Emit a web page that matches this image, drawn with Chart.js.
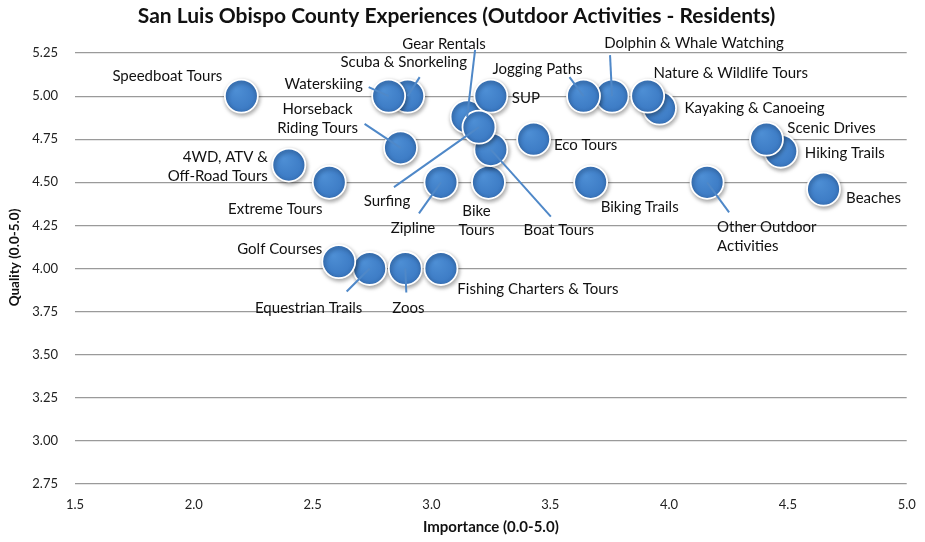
<!DOCTYPE html>
<html>
<head>
<meta charset="utf-8">
<script src="https://cdn.jsdelivr.net/npm/chart.js@4.4.1/dist/chart.umd.min.js"></script>
<style>
  html, body { margin: 0; padding: 0; background: #ffffff; }
  #wrap { width: 925px; height: 542px; }
</style>
</head>
<body>
<div id="wrap"><canvas id="chart" width="925" height="542"></canvas></div>
<script>
// Activities (drawing order: later entries sit on top of earlier ones)
const activities = [
  'Speedboat Tours', '4WD, ATV &\nOff-Road Tours', 'Extreme Tours', 'Scuba & Snorkeling',
  'Waterskiing', 'Horseback\nRiding Tours', 'Gear Rentals', 'Bike\nTours', 'Boat Tours',
  'SUP', 'Surfing', 'Eco Tours', 'Zipline', 'Biking Trails', 'Dolphin & Whale Watching',
  'Jogging Paths', 'Kayaking & Canoeing', 'Nature & Wildlife Tours', 'Hiking Trails',
  'Scenic Drives', 'Other Outdoor\nActivities', 'Beaches', 'Equestrian Trails',
  'Golf Courses', 'Zoos', 'Fishing Charters & Tours'
];
const importance = [
  2.20, 2.40, 2.57, 2.90, 2.82, 2.87, 3.15, 3.24, 3.25, 3.25, 3.20, 3.43, 3.04,
  3.67, 3.76, 3.64, 3.96, 3.91, 4.47, 4.41, 4.16, 4.65, 2.74, 2.61, 2.89, 3.04
];
const quality = [
  5.00, 4.60, 4.50, 5.00, 5.00, 4.70, 4.88, 4.50, 4.69, 5.00, 4.82, 4.75, 4.50,
  4.50, 5.00, 5.00, 4.93, 5.00, 4.68, 4.75, 4.50, 4.46, 4.00, 4.04, 4.00, 4.00
];
const xTickValues = [1.5, 2.0, 2.5, 3.0, 3.5, 4.0, 4.5, 5.0];
const yTickValues = [2.75, 3.00, 3.25, 3.50, 3.75, 4.00, 4.25, 4.50, 4.75, 5.00, 5.25];
const xAxisTitle = 'Importance (0.0-5.0)';
const yAxisTitle = 'Quality (0.0-5.0)';

// Where each label sits relative to its bubble (pixels), plus optional leader line start
const labelPlacement = [
  { dx: -74, dy: -20 },
  { dx: -21, dy: 1.5, align: 'right' },
  { dx: -54, dy: 27 },
  { dx: -4, dy: -34, lead: [12, -19] },
  { dx: -65, dy: -12, lead: [-20, -9] },
  { dx: -83, dy: -29, lead: [-36, -24] },
  { dx: -23, dy: -73, lead: [8, -67] },
  { dx: -12, dy: 38 },
  { dx: 68, dy: 81, lead: [60, 67] },
  { dx: 35, dy: 2 },
  { dx: -92, dy: 74, lead: [-85, 60] },
  { dx: 52, dy: 6 },
  { dx: -28, dy: 46, lead: [-22, 31] },
  { dx: 49, dy: 25 },
  { dx: 82, dy: -53, lead: [-2, -41] },
  { dx: -46, dy: -27, lead: [-14, -19] },
  { dx: 95, dy: 0 },
  { dx: 83, dy: -23 },
  { dx: 64, dy: 2 },
  { dx: 65, dy: -11 },
  { dx: 10, dy: 54.5, align: 'left', lead: [22, 30] },
  { dx: 50, dy: 9 },
  { dx: -61, dy: 40, lead: [-23, 23] },
  { dx: -59, dy: -12 },
  { dx: 3, dy: 40, lead: [1, 24] },
  { dx: 97, dy: 21 }
];

const FONT = 'Lato, "Open Sans", sans-serif';

const points = importance.map((x, i) => ({ x: x, y: quality[i] }));

// Soft drop shadow under the bubbles
const bubbleShadow = {
  id: 'bubbleShadow',
  beforeDatasetsDraw(chart) {
    const ctx = chart.ctx;
    ctx.save();
    ctx.shadowColor = 'rgba(0,0,0,0.35)';
    ctx.shadowBlur = 4;
    ctx.shadowOffsetX = 1;
    ctx.shadowOffsetY = 2;
  },
  afterDatasetsDraw(chart) {
    chart.ctx.restore();
  }
};

// Importance tick labels under the plot, and the vertical axis title
const axisText = {
  id: 'axisText',
  afterDraw(chart) {
    const ctx = chart.ctx;
    const a = chart.chartArea;
    const xs = chart.scales.x;
    ctx.save();
    ctx.fillStyle = '#222222';
    ctx.font = '13px ' + FONT;
    ctx.textAlign = 'center';
    ctx.textBaseline = 'middle';
    xTickValues.forEach(v => {
      ctx.fillText(v.toFixed(1), xs.getPixelForValue(v), a.bottom + 21);
    });
    ctx.translate(15, (a.top + a.bottom) / 2 - 11);
    ctx.rotate(-Math.PI / 2);
    ctx.fillStyle = '#111111';
    ctx.font = 'bold 13.5px ' + FONT;
    ctx.fillText(yAxisTitle, 0, 0);
    ctx.restore();
  }
};

// Activity names with leader lines
const bubbleLabels = {
  id: 'bubbleLabels',
  afterDatasetsDraw(chart) {
    const ctx = chart.ctx;
    const meta = chart.getDatasetMeta(0);
    ctx.save();
    ctx.strokeStyle = '#4f88c8';
    ctx.lineWidth = 2;
    meta.data.forEach((pt, i) => {
      const p = labelPlacement[i];
      if (!p.lead) return;
      ctx.beginPath();
      ctx.moveTo(pt.x + p.lead[0], pt.y + p.lead[1]);
      ctx.lineTo(pt.x, pt.y);
      ctx.stroke();
    });
    ctx.fillStyle = '#111111';
    ctx.font = '15px ' + FONT;
    ctx.textBaseline = 'middle';
    const lh = 19;
    meta.data.forEach((pt, i) => {
      const p = labelPlacement[i];
      const lines = activities[i].split('\n');
      ctx.textAlign = p.align || 'center';
      const cx = pt.x + p.dx;
      const cy = pt.y + p.dy;
      lines.forEach((ln, k) => {
        ctx.fillText(ln, cx, cy + (k - (lines.length - 1) / 2) * lh);
      });
    });
    ctx.restore();
  }
};

function bubbleFill(c) {
  if (c.type !== 'data' || !c.parsed) return '#3f7fc7';
  const chart = c.chart;
  const px = chart.scales.x.getPixelForValue(c.parsed.x);
  const py = chart.scales.y.getPixelForValue(c.parsed.y);
  if (!isFinite(px) || !isFinite(py)) return '#3f7fc7';
  const g = chart.ctx.createRadialGradient(px - 5, py - 6, 1, px, py, 18);
  g.addColorStop(0, '#4d8ed4');
  g.addColorStop(0.7, '#3f7ec7');
  g.addColorStop(1, '#3671b9');
  return g;
}

new Chart(document.getElementById('chart'), {
  type: 'scatter',
  data: {
    datasets: [{
      data: points,
      pointRadius: 16.5,
      pointHoverRadius: 16.5,
      backgroundColor: bubbleFill,
      borderColor: '#ffffff',
      borderWidth: 1.8
    }]
  },
  options: {
    responsive: false,
    animation: false,
    events: [],
    devicePixelRatio: 1,
    layout: { padding: { left: 0, right: 12, top: 0, bottom: 0 } },
    plugins: {
      legend: { display: false },
      tooltip: { enabled: false },
      title: {
        display: true,
        text: 'San Luis Obispo County Experiences (Outdoor Activities - Residents)',
        color: '#111111',
        font: { family: FONT, size: 21, weight: 'bold', lineHeight: 1.2 },
        padding: { top: 4, bottom: 23.8 }
      }
    },
    scales: {
      x: {
        type: 'linear',
        min: 1.5,
        max: 5.0,
        afterBuildTicks: s => { s.ticks = xTickValues.map(v => ({ value: v })); },
        afterFit: s => { s.height = 58; },
        ticks: { display: false },
        grid: { display: false, drawTicks: false },
        border: { display: false },
        title: {
          display: true,
          text: xAxisTitle,
          color: '#111111',
          font: { family: FONT, size: 15, weight: 'bold', lineHeight: 1.2 },
          padding: { top: 0, bottom: 6 }
        }
      },
      y: {
        type: 'linear',
        min: 2.75,
        max: 5.25,
        afterBuildTicks: s => { s.ticks = yTickValues.map(v => ({ value: v })); },
        afterFit: s => { s.width = 75; },
        ticks: {
          color: '#222222',
          font: { family: FONT, size: 13 },
          padding: 17,
          callback: v => Number(v).toFixed(2)
        },
        grid: { color: '#9a9a9a', lineWidth: 1.2, drawTicks: false },
        border: { display: false },
        title: { display: false }
      }
    }
  },
  plugins: [bubbleShadow, bubbleLabels, axisText]
});
</script>
</body>
</html>
